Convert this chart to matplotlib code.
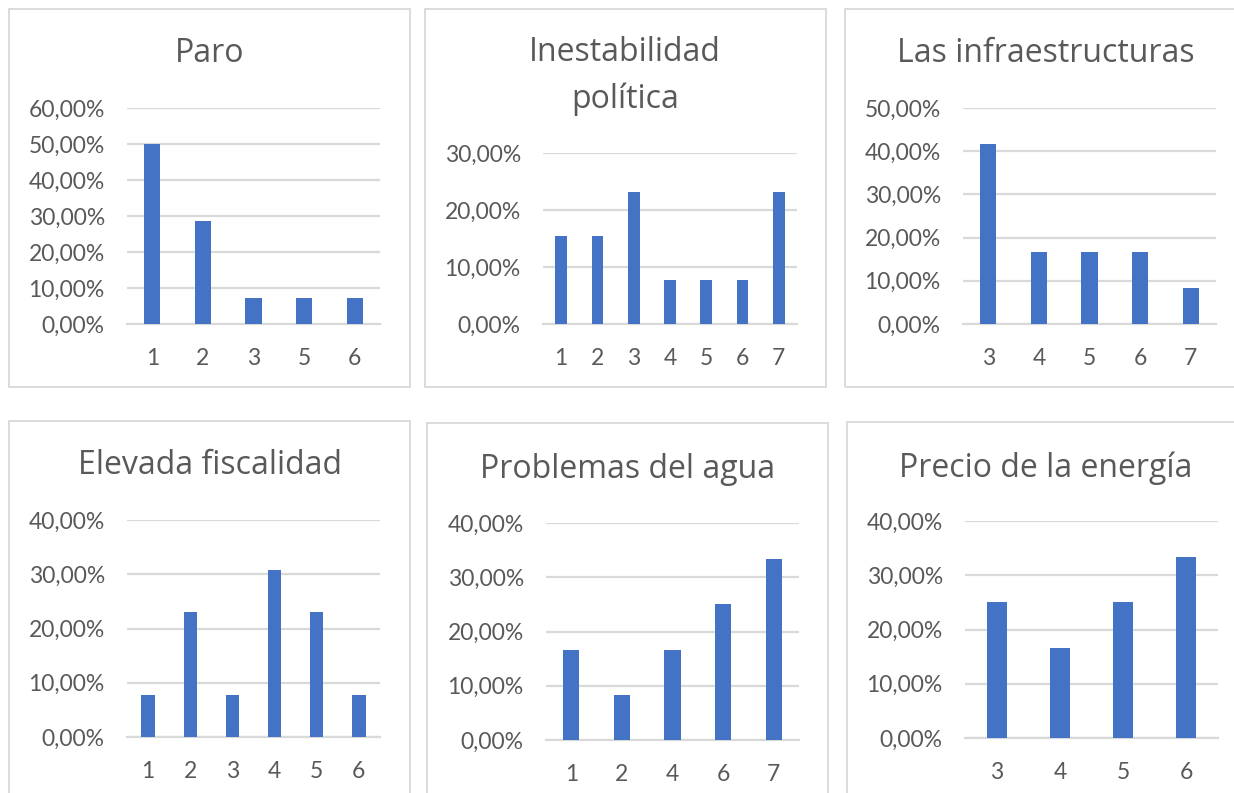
import matplotlib
matplotlib.use("Agg")
import matplotlib.pyplot as plt
from matplotlib.patches import Rectangle
from matplotlib.ticker import FuncFormatter, MultipleLocator

# ---- data ----
paro_cats = ["1", "2", "3", "5", "6"]
paro_vals = [50.00, 28.57, 7.14, 7.14, 7.14]

inest_cats = ["1", "2", "3", "4", "5", "6", "7"]
inest_vals = [15.38, 15.38, 23.08, 7.69, 7.69, 7.69, 23.08]

infra_cats = ["3", "4", "5", "6", "7"]
infra_vals = [41.67, 16.67, 16.67, 16.67, 8.33]

fisc_cats = ["1", "2", "3", "4", "5", "6"]
fisc_vals = [7.69, 23.08, 7.69, 30.77, 23.08, 7.69]

agua_cats = ["1", "2", "4", "6", "7"]
agua_vals = [16.67, 8.33, 16.67, 25.00, 33.33]

energia_cats = ["3", "4", "5", "6"]
energia_vals = [25.00, 16.67, 25.00, 33.33]

titles = ["Paro", "Inestabilidad\npolítica", "Las infraestructuras",
          "Elevada fiscalidad", "Problemas del agua", "Precio de la energía"]
ymaxes = [60, 30, 50, 40, 40, 40]
ysteps = [10, 10, 10, 10, 10, 10]

# ---- layout (pixels) ----
W, H = 1234, 793
fig = plt.figure(figsize=(W / 100, H / 100), dpi=100)
fig.patch.set_facecolor("white")

# plot areas: x0, x1, ytop, ybot
areas = [(127, 380, 108, 324), (543, 797, 153, 324), (963, 1216, 108, 324),
         (127, 380, 520, 737), (546, 799, 523, 740), (965, 1218, 521, 738)]
# boxes: x0, x1, ytop, ybot
boxes = [(9, 410, 9, 387), (425, 826, 9, 387), (845, 1250, 9, 387),
         (9, 410, 421, 800), (427, 828, 423, 800), (847, 1250, 422, 800)]
title_y = [53, 76, 53, 466, 469, 468]
title_cx = [210, 625, 1046, 210, 628, 1046]

data = [(paro_cats, paro_vals), (inest_cats, inest_vals), (infra_cats, infra_vals),
        (fisc_cats, fisc_vals), (agua_cats, agua_vals), (energia_cats, energia_vals)]

BAR = "#4472C4"
GRID = "#D9D9D9"
TXT = "#595959"
tick_font = ["Lato", "DejaVu Sans"]
title_font = ["Open Sans", "DejaVu Sans"]

fmt = FuncFormatter(lambda v, p: ("%.2f%%" % v).replace(".", ","))

for i in range(6):
    bx0, bx1, bt, bb = boxes[i]
    fig.patches.append(Rectangle((bx0 / W, 1 - bb / H), (bx1 - bx0) / W, (bb - bt) / H,
                                 transform=fig.transFigure, fill=False,
                                 edgecolor=GRID, linewidth=1.3, zorder=0))
    x0, x1, yt, yb = areas[i]
    ax = fig.add_axes([x0 / W, 1 - yb / H, (x1 - x0) / W, (yb - yt) / H])
    cats, vals = data[i]
    xs = list(range(len(cats)))
    ax.bar(xs, vals, width=0.32, color=BAR, zorder=3)
    ax.set_xlim(-0.5, len(cats) - 0.5)
    ax.set_ylim(0, ymaxes[i])
    ax.yaxis.set_major_locator(MultipleLocator(ysteps[i]))
    ax.yaxis.set_major_formatter(fmt)
    ax.set_xticks(xs)
    ax.set_xticklabels(cats)
    ax.grid(axis="y", color=GRID, linewidth=1.6, zorder=0)
    ax.set_axisbelow(True)
    for s in ["top", "right", "left"]:
        ax.spines[s].set_visible(False)
    ax.spines["bottom"].set_color(GRID)
    ax.spines["bottom"].set_linewidth(1.6)
    ax.tick_params(axis="both", length=0, labelcolor=TXT, labelsize=16.5)
    ax.tick_params(axis="y", pad=16)
    ax.tick_params(axis="x", pad=17)
    for lab in ax.get_xticklabels() + ax.get_yticklabels():
        lab.set_family(tick_font)
    fig.text(title_cx[i] / W, 1 - title_y[i] / H, titles[i], ha="center", va="center",
             fontsize=23, color=TXT, family=title_font, linespacing=1.55)

fig.savefig("out.png", dpi=100, facecolor="white")
